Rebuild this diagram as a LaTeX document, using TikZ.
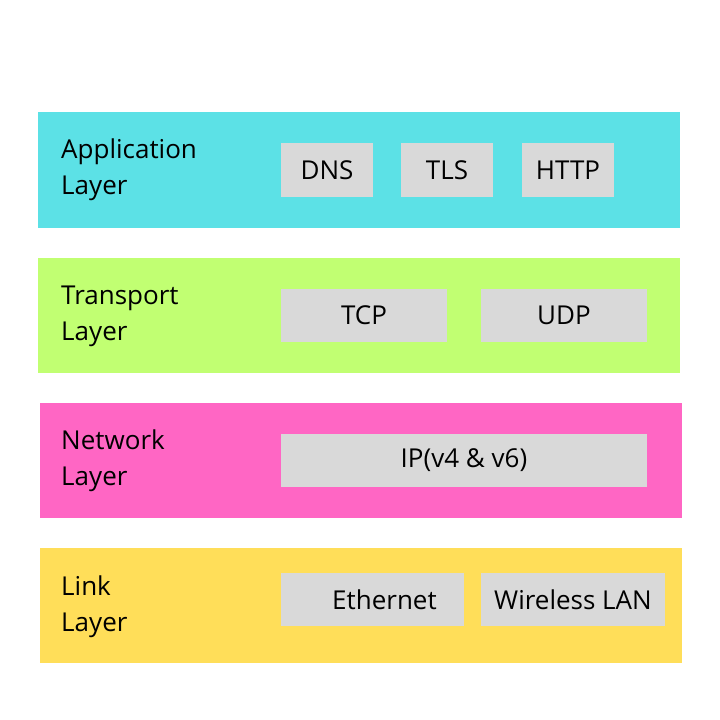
\documentclass[tikz,border=0pt]{standalone}
\usepackage{fontspec}
\setmainfont{Open Sans}
\usepackage{tikz}

\definecolor{appcol}{HTML}{5CE1E6}
\definecolor{tracol}{HTML}{C1FF72}
\definecolor{netcol}{HTML}{FF66C4}
\definecolor{lnkcol}{HTML}{FFDE59}
\definecolor{boxcol}{HTML}{D9D9D9}

\begin{document}
\begin{tikzpicture}[x=1pt,y=-1pt,
  proto/.style={fill=boxcol,inner sep=0pt,font=\fontsize{26}{30}\selectfont},
  lbl/.style={anchor=west,align=left,inner sep=0pt,font=\fontsize{26}{36}\selectfont}]
\useasboundingbox[fill=white] (0,0) rectangle (720,720);

% layer bands
\fill[appcol] (38,112) rectangle (680,228);
\fill[tracol] (38,258) rectangle (680,373);
\fill[netcol] (40,403) rectangle (682,518);
\fill[lnkcol] (40,548) rectangle (682,663);

\node[lbl] (app) at (61,170) {Application\\Layer};
\node[lbl] (tra) at (61,316) {Transport\\Layer};
\node[lbl] (net) at (61,461) {Network\\Layer};
\node[lbl] (lnk) at (61,607) {Link\\Layer};

% protocols
\node[proto,minimum width=92,minimum height=54] (dns) at (327,170) {DNS};
\node[proto,minimum width=92,minimum height=54] (tls) at (447,170) {TLS};
\node[proto,minimum width=92,minimum height=54] (http) at (568,170) {HTTP};
\node[proto,minimum width=166,minimum height=53] (tcp) at (364,315.5) {TCP};
\node[proto,minimum width=166,minimum height=53] (udp) at (564,315.5) {UDP};
\node[proto,minimum width=366,minimum height=53] (ip) at (464,460.5) {IP(v4 \& v6)};
\node[proto,minimum width=183,minimum height=53] (eth) at (372.5,599.5) {\hspace{24pt}Ethernet};
\node[proto,minimum width=184,minimum height=53] (wlan) at (573,599.5) {Wireless LAN};
\end{tikzpicture}
\end{document}
